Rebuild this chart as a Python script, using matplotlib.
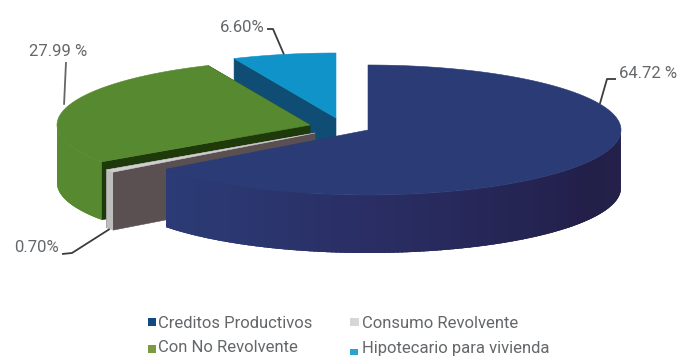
import numpy as np
import matplotlib
matplotlib.use("Agg")
import matplotlib.pyplot as plt
from matplotlib.colors import to_rgb
from matplotlib.patches import Polygon, Rectangle

categories = ["Creditos Productivos", "Consumo Revolvente", "Con No Revolvente", "Hipotecario para vivienda"]
shares = [64.72, 0.70, 27.99, 6.60]
value_labels = ["64.72 %", "0.70%", "27.99 %", "6.60%"]

RX, RY, DEPTH = 253, 65, 58
TEXT = "#64676a"
LEADER = "#3c3c3c"

# Per-slice placement of the exploded pie, in figure pixels.
centers = [(368, 130), (315, 133), (310, 125), (336, 118)]
face_colors = ["#2a3b76", "#cfcfcf", "#578a30", "#0f93c8"]
outer_colors = [None, "#bdbdbd", "#578a30", "#0f6f9e"]
cut_colors = ["#22204c", "#5a5052", "#1f3a0a", "#0f4d74"]
swatch_colors = ["#0f4a80", "#d6d6d6", "#7c9a42", "#2ba3cc"]

# Front wall shading of the large slice, by clockwise angle from 12 o'clock.
shade_angles = [80, 120, 180, 210, 235]
shade_colors = ["#24214c", "#221f49", "#2a2e64", "#2b3770", "#2c3b76"]

fig = plt.figure(figsize=(6.78, 3.56), dpi=100)
ax = fig.add_axes([0, 0, 1, 1])
ax.set_xlim(0, 678)
ax.set_ylim(356, 0)
ax.axis("off")
font = "Roboto"


def rim(center, deg):
    """Point on a slice's top rim at a clockwise angle from 12 o'clock."""
    t = np.radians(deg)
    return np.column_stack((center[0] + RX * np.sin(t), center[1] - RY * np.cos(t)))


def shade(deg):
    rgb = np.array([to_rgb(c) for c in shade_colors])
    return [np.interp(deg, shade_angles, rgb[:, i]) for i in range(3)]


edges = np.concatenate(([0], np.cumsum(shares) / np.sum(shares) * 360))
spans = list(zip(edges[:-1], edges[1:]))

# Painter's order: back slices first, the large front slice last.
for i in [3, 2, 1, 0]:
    start, end = spans[i]
    c = centers[i]
    arc = rim(c, np.linspace(start, end, 180))

    # flat cut walls running back to the apex
    for deg in (start, end):
        if i == 0 or (i == 3 and deg == end):
            continue
        p = rim(c, deg)[0]
        wall = [p, c, (c[0], c[1] + DEPTH), (p[0], p[1] + DEPTH)]
        ax.add_patch(Polygon(wall, closed=True, fc=cut_colors[i], ec=cut_colors[i], lw=0.4))

    # curved outer wall, only where it faces the viewer; segments overlap to avoid seams
    lo, hi = max(start, 90), min(end, 270)
    if lo < hi:
        steps = np.linspace(lo, hi, int(hi - lo) + 2)
        for a, b in zip(steps[:-1], steps[1:]):
            seg = rim(c, np.linspace(a, min(b + 1.5, hi), 4))
            quad = np.vstack((seg, seg[::-1] + (0, DEPTH)))
            col = shade((a + b) / 2) if outer_colors[i] is None else outer_colors[i]
            ax.add_patch(Polygon(quad, closed=True, fc=col, ec="none"))

    # top face
    face = np.vstack((c, arc))
    ax.add_patch(Polygon(face, closed=True, fc=face_colors[i], ec=face_colors[i], lw=0.4))

# Leader lines: anchor on a slice rim, elbow, then the value text.
leaders = [
    (0, 0.285, 0, [(607, 79), (616, 79)], (619, 74, "left"), LEADER),
    (1, 0.5, DEPTH, [(72, 253), (62, 254)], (59, 248, "right"), LEADER),
    (2, 0.477, -5, [(66, 62)], (87, 51, "right"), "#666666"),
    (3, 0.5, 0, [(273, 29), (267, 29)], (265, 27, "right"), LEADER),
]
for i, frac, dy, elbow, (tx, ty, ha), col in leaders:
    start, end = spans[i]
    p = rim(centers[i], start + frac * (end - start))[0] + (0, dy)
    pts = np.vstack((p, elbow))
    ax.plot(pts[:, 0], pts[:, 1], color=col, lw=1.3, solid_capstyle="butt")
    ax.text(tx, ty, value_labels[i], ha=ha, va="center", fontsize=12, color=TEXT, family=font)

# Legend, two rows by two columns.
swatches = [(148, 318, 8, 8), (350, 318, 9, 8), (148, 345, 8, 8), (350, 349, 8, 6)]
text_pos = [(158, 323), (362, 323), (158, 348), (362, 348)]
for name, col, sw, (tx, ty) in zip(categories, swatch_colors, swatches, text_pos):
    ax.add_patch(Rectangle(sw[:2], sw[2], sw[3], fc=col, ec="none"))
    ax.text(tx, ty, name, ha="left", va="center", fontsize=12, color=TEXT, family=font)

fig.savefig("out.png", dpi=100, facecolor="white")
